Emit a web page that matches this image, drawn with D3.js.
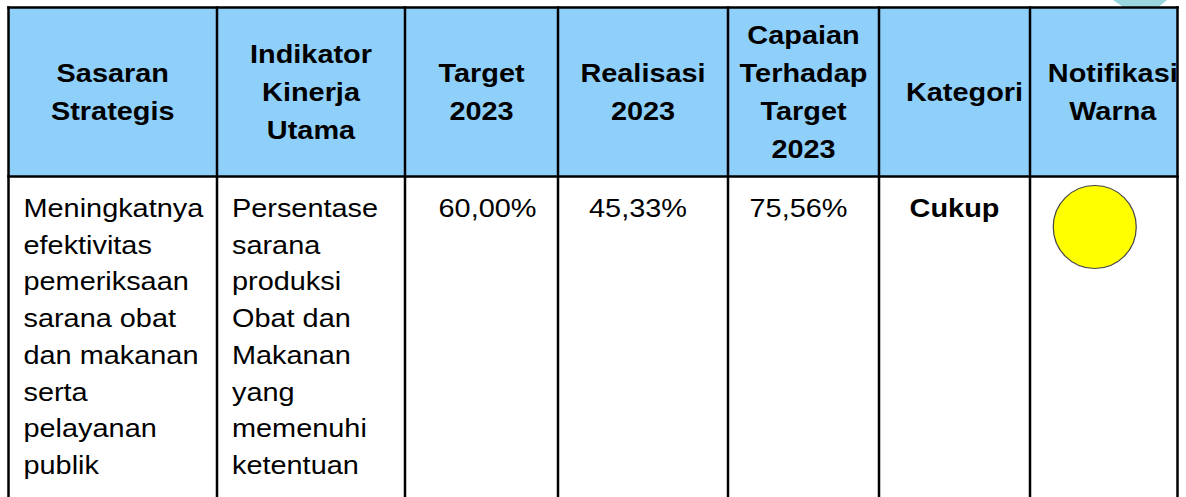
<html>
<head>
<script src="https://d3js.org/d3.v7.min.js"></script>
<style>
  body { margin: 0; background: #fff; }
  text { font-family: "Liberation Sans", Arial, sans-serif; font-size: 26.5px; fill: #000; }
</style>
</head>
<body>
<script>

// column keys and header labels (one array per header cell)
var columns = ["sasaran", "indikator", "target", "realisasi", "capaian", "kategori", "warna"];
var headerLabels = [
  ["Sasaran", "Strategis"],
  ["Indikator", "Kinerja", "Utama"],
  ["Target", "2023"],
  ["Realisasi", "2023"],
  ["Capaian", "Terhadap", "Target", "2023"],
  ["Kategori"],
  ["Notifikasi", "Warna"]
];

// body row values
var sasaranLines = ["Meningkatnya", "efektivitas", "pemeriksaan", "sarana obat",
                    "dan makanan", "serta", "pelayanan", "publik"];
var indikatorLines = ["Persentase", "sarana", "produksi", "Obat dan",
                      "Makanan", "yang", "memenuhi", "ketentuan"];
var targetValues = ["60,00%"];
var realisasiValues = ["45,33%"];
var capaianValues = ["75,56%"];
var kategoriValues = ["Cukup"];
var notifikasiColors = ["#ffff00"];

var width = 1186, height = 497;
var sx = 1.09; // the source text is a bit stretched sideways

var svg = d3.select("body").append("svg")
            .attr("width", width)
            .attr("height", height);

// column edges
var left = d3.scaleOrdinal()
             .domain(columns)
             .range([8.5, 217, 405, 558, 728, 879, 1030]);
var right = d3.scaleOrdinal()
              .domain(columns)
              .range([217, 405, 558, 728, 879, 1030, 1177.5]);
var center = function(c) { return (left(c) + right(c)) / 2; };
// small nudges where the source text is not quite centred
var nudgeHead = d3.scaleOrdinal().domain(columns).range([0, 0, 0, 0, 0, 10, 9]);
var nudgeBody = d3.scaleOrdinal().domain(columns).range([0, 0, 6, -5, -5, 0, 0]);

var tableTop = 7.5, headBottom = 176.5;
var headMid = 91.5, headStep = 38;
var bodyBase = 217, bodyStep = 36.7;

// faint watermark tip peeking at the top
svg.append("path")
   .attr("d", "M1113,0 L1167,0 L1156,9 L1126,9 Z")
   .attr("fill", "#9ad6de");

// header fill
svg.selectAll("rect.head")
   .data(columns)
  .enter().append("rect")
   .attr("class", "head")
   .attr("x", function(d) { return left(d); })
   .attr("y", tableTop)
   .attr("width", function(d) { return right(d) - left(d); })
   .attr("height", headBottom - tableTop)
   .attr("fill", "#8fd0fb");

// header labels
columns.forEach(function(c, i) {
  var lines = headerLabels[i];
  var y0 = headMid + 9.5 - (lines.length - 1) * headStep / 2;
  svg.selectAll(null)
     .data(lines)
    .enter().append("text")
     .attr("text-anchor", "middle")
     .attr("font-weight", "bold")
     .attr("transform", function(d, j) {
        return "translate(" + (center(c) + nudgeHead(c)) + "," + (y0 + j * headStep) + ") scale(" + sx + ",1)";
     })
     .text(function(d) { return d; });
});

// body wrapped text columns
function wrapped(col, lines) {
  svg.selectAll(null)
     .data(lines)
    .enter().append("text")
     .attr("transform", function(d, j) {
        return "translate(" + (left(col) + 15) + "," + (bodyBase + j * bodyStep) + ") scale(" + sx + ",1)";
     })
     .text(function(d) { return d; });
}
wrapped("sasaran", sasaranLines);
wrapped("indikator", indikatorLines);

function single(col, values, bold) {
  svg.selectAll(null)
     .data(values)
    .enter().append("text")
     .attr("text-anchor", "middle")
     .attr("font-weight", bold ? "bold" : "normal")
     .attr("transform", function(d) {
        return "translate(" + (center(col) + nudgeBody(col)) + "," + bodyBase + ") scale(" + sx + ",1)";
     })
     .text(function(d) { return d; });
}
single("target", targetValues, false);
single("realisasi", realisasiValues, false);
single("capaian", capaianValues, false);
single("kategori", kategoriValues, true);

// colour notification
svg.selectAll("circle.notif")
   .data(notifikasiColors)
  .enter().append("circle")
   .attr("class", "notif")
   .attr("cx", center("warna") - 9)
   .attr("cy", 227)
   .attr("r", 41.5)
   .attr("fill", function(d) { return d; })
   .attr("stroke", "#444")
   .attr("stroke-width", 1.2);

// grid lines
var edges = columns.map(function(c) { return left(c); }).concat([right("warna")]);
svg.selectAll("line.v")
   .data(edges)
  .enter().append("line")
   .attr("class", "v")
   .attr("x1", function(d) { return d; })
   .attr("x2", function(d) { return d; })
   .attr("y1", tableTop - 1.25)
   .attr("y2", height)
   .attr("stroke", "#000")
   .attr("stroke-width", 2.5);

svg.selectAll("line.h")
   .data([tableTop, headBottom])
  .enter().append("line")
   .attr("class", "h")
   .attr("x1", edges[0] - 1.25)
   .attr("x2", edges[edges.length - 1] + 1.25)
   .attr("y1", function(d) { return d; })
   .attr("y2", function(d) { return d; })
   .attr("stroke", "#000")
   .attr("stroke-width", 2.5);

</script>
</body>
</html>
